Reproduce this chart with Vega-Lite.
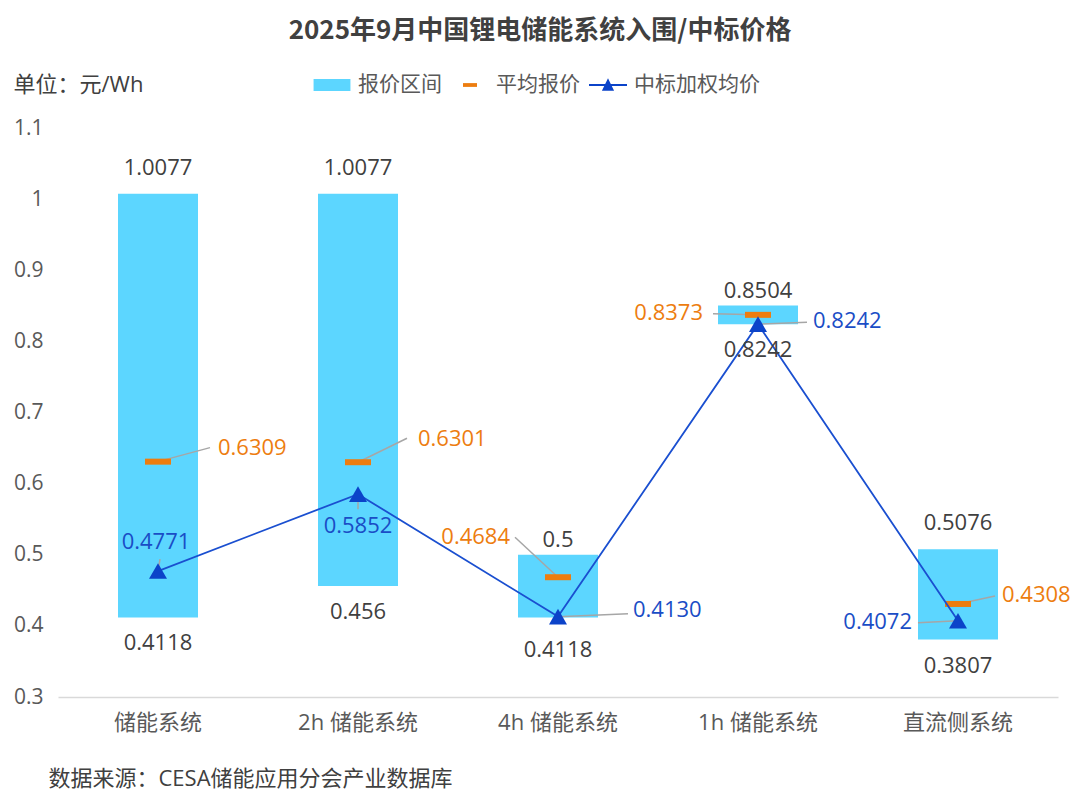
{
  "$schema": "https://vega.github.io/schema/vega-lite/v6.json",
  "width": 1000,
  "height": 569,
  "autosize": {"type": "none"},
  "padding": {"left": 58, "top": 128, "right": 22, "bottom": 104},
  "background": "white",
  "config": {"view": {"stroke": null}, "font": "Open Sans, Noto Sans CJK SC"},
  "title": {
    "text": "2025年9月中国锂电储能系统入围/中标价格",
    "font": "Noto Sans CJK SC",
    "fontSize": 26,
    "fontWeight": "bold",
    "color": "#404040",
    "anchor": "middle",
    "frame": "group",
    "dx": -18,
    "offset": 22
  },
  "data": {
    "values": [
      {"cat": "储能系统", "min": 0.4118, "max": 1.0077, "avg": 0.6309, "win": 0.4771},
      {"cat": "2h 储能系统", "min": 0.456, "max": 1.0077, "avg": 0.6301, "win": 0.5852},
      {"cat": "4h 储能系统", "min": 0.4118, "max": 0.5, "avg": 0.4684, "win": 0.4130},
      {"cat": "1h 储能系统", "min": 0.8242, "max": 0.8504, "avg": 0.8373, "win": 0.8242},
      {"cat": "直流侧系统", "min": 0.3807, "max": 0.5076, "avg": 0.4308, "win": 0.4072}
    ]
  },
  "encoding": {
    "x": {
      "field": "cat",
      "type": "nominal",
      "sort": null,
      "scale": {"paddingInner": 0.6, "paddingOuter": 0.3},
      "axis": {
        "title": "数据来源：CESA储能应用分会产业数据库",
        "titleX": -10,
        "titleY": 81,
        "titleAlign": "left",
        "titleAnchor": "start",
        "titleBaseline": "middle",
        "titleFont": "Open Sans, Noto Sans CJK SC",
        "titleFontSize": 22,
        "titleFontWeight": "normal",
        "titleColor": "#404040",
        "labelAngle": 0,
        "labelFont": "Open Sans, Noto Sans CJK SC",
        "labelFontSize": 22,
        "labelColor": "#595959",
        "labelPadding": 15,
        "ticks": false,
        "domainColor": "#D9D9D9",
        "domainWidth": 1.5
      }
    }
  },
  "layer": [
    {
      "mark": {"type": "bar"},
      "encoding": {
        "y": {
          "field": "min",
          "type": "quantitative",
          "scale": {"domain": [0.3, 1.1], "nice": false, "zero": false},
          "axis": {
            "title": "单位：元/Wh",
            "titleAngle": 0,
            "titleX": -45,
            "titleY": -44,
            "titleAlign": "left",
            "titleBaseline": "middle",
            "titleFont": "Open Sans, Noto Sans CJK SC",
            "titleFontSize": 22,
            "titleFontWeight": "normal",
            "titleColor": "#404040",
            "values": [0.3, 0.4, 0.5, 0.6, 0.7, 0.8, 0.9, 1, 1.1],
            "format": "~g",
            "labelFont": "Open Sans",
            "labelFontSize": 21,
            "labelColor": "#595959",
            "labelPadding": 15,
            "ticks": false,
            "domain": false,
            "grid": false
          }
        },
        "y2": {"field": "max"},
        "color": {
          "datum": "报价区间",
          "scale": {"domain": ["报价区间", "平均报价", "中标加权均价"], "range": ["#5CD6FF", "#ED7D0F", "#0B43C9"]},
          "legend": {
            "title": null,
            "orient": "none",
            "legendX": 255,
            "legendY": -62,
            "direction": "horizontal",
            "padding": 0,
            "labelFont": "Noto Sans CJK SC",
            "labelFontSize": 21,
            "labelColor": "#595959",
            "symbolSize": 1444,
            "labelOffset": 7,
            "columnPadding": 9,
            "symbolStrokeWidth": 0,
            "symbolOpacity": 1,
            "encoding": {
              "symbols": {
                "shape": {"value": {"expr": "datum.value === '报价区间' ? 'M-0.97,-0.32H0.97V0.32H-0.97Z' : (datum.value === '平均报价' ? 'M-0.37,-0.1H0.37V0.1H-0.37Z' : 'M-1,-0.055H1V0.055H-1Z M-0.32,0.3L0,-0.35L0.32,0.3Z')"}}
              }
            }
          }
        }
      }
    },
    {
      "transform": [{"filter": "datum.cat === '储能系统'"}],
      "mark": {"type": "rule", "color": "#A6A6A6", "strokeWidth": 1.5, "x2Offset": 52, "y2Offset": -14},
      "encoding": {"x": {"field": "cat", "type": "nominal", "sort": null, "bandPosition": 0.5}, "x2": {"field": "cat", "bandPosition": 0.5}, "y": {"field": "avg", "type": "quantitative"}, "y2": {"field": "avg"}}
    },
    {
      "transform": [{"filter": "datum.cat === '2h 储能系统'"}],
      "mark": {"type": "rule", "color": "#A6A6A6", "strokeWidth": 1.5, "x2Offset": 49, "y2Offset": -24},
      "encoding": {"x": {"field": "cat", "type": "nominal", "sort": null, "bandPosition": 0.5}, "x2": {"field": "cat", "bandPosition": 0.5}, "y": {"field": "avg", "type": "quantitative"}, "y2": {"field": "avg"}}
    },
    {
      "transform": [{"filter": "datum.cat === '4h 储能系统'"}],
      "mark": {"type": "rule", "color": "#A6A6A6", "strokeWidth": 1.5, "x2Offset": -43, "y2Offset": -40},
      "encoding": {"x": {"field": "cat", "type": "nominal", "sort": null, "bandPosition": 0.5}, "x2": {"field": "cat", "bandPosition": 0.5}, "y": {"field": "avg", "type": "quantitative"}, "y2": {"field": "avg"}}
    },
    {
      "transform": [{"filter": "datum.cat === '1h 储能系统'"}],
      "mark": {"type": "rule", "color": "#A6A6A6", "strokeWidth": 1.5, "x2Offset": -45, "y2Offset": -1},
      "encoding": {"x": {"field": "cat", "type": "nominal", "sort": null, "bandPosition": 0.5}, "x2": {"field": "cat", "bandPosition": 0.5}, "y": {"field": "avg", "type": "quantitative"}, "y2": {"field": "avg"}}
    },
    {
      "transform": [{"filter": "datum.cat === '直流侧系统'"}],
      "mark": {"type": "rule", "color": "#A6A6A6", "strokeWidth": 1.5, "x2Offset": 37, "y2Offset": -8},
      "encoding": {"x": {"field": "cat", "type": "nominal", "sort": null, "bandPosition": 0.5}, "x2": {"field": "cat", "bandPosition": 0.5}, "y": {"field": "avg", "type": "quantitative"}, "y2": {"field": "avg"}}
    },
    {
      "transform": [{"filter": "datum.cat === '储能系统'"}],
      "mark": {"type": "rule", "color": "#A6A6A6", "strokeWidth": 1.5, "x2Offset": 2, "y2Offset": -12},
      "encoding": {"x": {"field": "cat", "type": "nominal", "sort": null, "bandPosition": 0.5}, "x2": {"field": "cat", "bandPosition": 0.5}, "y": {"field": "win", "type": "quantitative"}, "y2": {"field": "win"}}
    },
    {
      "transform": [{"filter": "datum.cat === '2h 储能系统'"}],
      "mark": {"type": "rule", "color": "#A6A6A6", "strokeWidth": 1.5, "x2Offset": 0, "y2Offset": 15},
      "encoding": {"x": {"field": "cat", "type": "nominal", "sort": null, "bandPosition": 0.5}, "x2": {"field": "cat", "bandPosition": 0.5}, "y": {"field": "win", "type": "quantitative"}, "y2": {"field": "win"}}
    },
    {
      "transform": [{"filter": "datum.cat === '4h 储能系统'"}],
      "mark": {"type": "rule", "color": "#A6A6A6", "strokeWidth": 1.5, "x2Offset": 70, "y2Offset": -3},
      "encoding": {"x": {"field": "cat", "type": "nominal", "sort": null, "bandPosition": 0.5}, "x2": {"field": "cat", "bandPosition": 0.5}, "y": {"field": "win", "type": "quantitative"}, "y2": {"field": "win"}}
    },
    {
      "transform": [{"filter": "datum.cat === '1h 储能系统'"}],
      "mark": {"type": "rule", "color": "#A6A6A6", "strokeWidth": 1.5, "x2Offset": 49, "y2Offset": -2},
      "encoding": {"x": {"field": "cat", "type": "nominal", "sort": null, "bandPosition": 0.5}, "x2": {"field": "cat", "bandPosition": 0.5}, "y": {"field": "win", "type": "quantitative"}, "y2": {"field": "win"}}
    },
    {
      "transform": [{"filter": "datum.cat === '直流侧系统'"}],
      "mark": {"type": "rule", "color": "#A6A6A6", "strokeWidth": 1.5, "x2Offset": -40, "y2Offset": 2},
      "encoding": {"x": {"field": "cat", "type": "nominal", "sort": null, "bandPosition": 0.5}, "x2": {"field": "cat", "bandPosition": 0.5}, "y": {"field": "win", "type": "quantitative"}, "y2": {"field": "win"}}
    },
    {
      "mark": {"type": "tick", "color": "#ED7D0F", "size": 26, "thickness": 6, "opacity": 1},
      "encoding": {"y": {"field": "avg", "type": "quantitative"}}
    },
    {
      "mark": {"type": "line", "color": "#1A4FD0", "strokeWidth": 1.8},
      "encoding": {"y": {"field": "win", "type": "quantitative"}}
    },
    {
      "mark": {"type": "point", "shape": "triangle-up", "size": 324, "filled": true, "color": "#0B43C9", "opacity": 1},
      "encoding": {"y": {"field": "win", "type": "quantitative"}}
    },
    {
      "transform": [{"filter": "indexof(['储能系统', '2h 储能系统', '直流侧系统'], datum.cat) >= 0"}],
      "mark": {"type": "text", "font": "Open Sans", "fontSize": 22, "color": "#404040", "dy": -26},
      "encoding": {"y": {"field": "max", "type": "quantitative"}, "text": {"field": "max", "type": "nominal"}}
    },
    {
      "transform": [{"filter": "indexof(['4h 储能系统', '1h 储能系统'], datum.cat) >= 0"}],
      "mark": {"type": "text", "font": "Open Sans", "fontSize": 22, "color": "#404040", "dy": -15},
      "encoding": {"y": {"field": "max", "type": "quantitative"}, "text": {"field": "max", "type": "nominal"}}
    },
    {
      "transform": [{"filter": "datum.cat !== '4h 储能系统'"}],
      "mark": {"type": "text", "font": "Open Sans", "fontSize": 22, "color": "#404040", "dy": 26},
      "encoding": {"y": {"field": "min", "type": "quantitative"}, "text": {"field": "min", "type": "nominal"}}
    },
    {
      "transform": [{"filter": "datum.cat === '4h 储能系统'"}],
      "mark": {"type": "text", "font": "Open Sans", "fontSize": 22, "color": "#404040", "dy": 33},
      "encoding": {"y": {"field": "min", "type": "quantitative"}, "text": {"field": "min", "type": "nominal"}}
    },
    {
      "transform": [{"filter": "datum.cat === '储能系统'"}],
      "mark": {"type": "text", "font": "Open Sans", "fontSize": 22, "color": "#ED7D0F", "align": "left", "dx": 60, "dy": -14},
      "encoding": {"y": {"field": "avg", "type": "quantitative"}, "text": {"field": "avg", "type": "quantitative", "format": ".4f"}}
    },
    {
      "transform": [{"filter": "datum.cat === '2h 储能系统'"}],
      "mark": {"type": "text", "font": "Open Sans", "fontSize": 22, "color": "#ED7D0F", "align": "left", "dx": 60, "dy": -23},
      "encoding": {"y": {"field": "avg", "type": "quantitative"}, "text": {"field": "avg", "type": "quantitative", "format": ".4f"}}
    },
    {
      "transform": [{"filter": "datum.cat === '4h 储能系统'"}],
      "mark": {"type": "text", "font": "Open Sans", "fontSize": 22, "color": "#ED7D0F", "align": "right", "dx": -48, "dy": -40},
      "encoding": {"y": {"field": "avg", "type": "quantitative"}, "text": {"field": "avg", "type": "quantitative", "format": ".4f"}}
    },
    {
      "transform": [{"filter": "datum.cat === '1h 储能系统'"}],
      "mark": {"type": "text", "font": "Open Sans", "fontSize": 22, "color": "#ED7D0F", "align": "right", "dx": -55, "dy": -2},
      "encoding": {"y": {"field": "avg", "type": "quantitative"}, "text": {"field": "avg", "type": "quantitative", "format": ".4f"}}
    },
    {
      "transform": [{"filter": "datum.cat === '直流侧系统'"}],
      "mark": {"type": "text", "font": "Open Sans", "fontSize": 22, "color": "#ED7D0F", "align": "left", "dx": 44, "dy": -9},
      "encoding": {"y": {"field": "avg", "type": "quantitative"}, "text": {"field": "avg", "type": "quantitative", "format": ".4f"}}
    },
    {
      "transform": [{"filter": "datum.cat === '储能系统'"}],
      "mark": {"type": "text", "font": "Open Sans", "fontSize": 22, "color": "#1A4DC6", "align": "center", "dx": -2, "dy": -29},
      "encoding": {"y": {"field": "win", "type": "quantitative"}, "text": {"field": "win", "type": "quantitative", "format": ".4f"}}
    },
    {
      "transform": [{"filter": "datum.cat === '2h 储能系统'"}],
      "mark": {"type": "text", "font": "Open Sans", "fontSize": 22, "color": "#1A4DC6", "align": "center", "dx": 0, "dy": 32},
      "encoding": {"y": {"field": "win", "type": "quantitative"}, "text": {"field": "win", "type": "quantitative", "format": ".4f"}}
    },
    {
      "transform": [{"filter": "datum.cat === '4h 储能系统'"}],
      "mark": {"type": "text", "font": "Open Sans", "fontSize": 22, "color": "#1A4DC6", "align": "left", "dx": 75, "dy": -7},
      "encoding": {"y": {"field": "win", "type": "quantitative"}, "text": {"field": "win", "type": "quantitative", "format": ".4f"}}
    },
    {
      "transform": [{"filter": "datum.cat === '1h 储能系统'"}],
      "mark": {"type": "text", "font": "Open Sans", "fontSize": 22, "color": "#1A4DC6", "align": "left", "dx": 55, "dy": -3},
      "encoding": {"y": {"field": "win", "type": "quantitative"}, "text": {"field": "win", "type": "quantitative", "format": ".4f"}}
    },
    {
      "transform": [{"filter": "datum.cat === '直流侧系统'"}],
      "mark": {"type": "text", "font": "Open Sans", "fontSize": 22, "color": "#1A4DC6", "align": "right", "dx": -46, "dy": 1},
      "encoding": {"y": {"field": "win", "type": "quantitative"}, "text": {"field": "win", "type": "quantitative", "format": ".4f"}}
    }
  ]
}
